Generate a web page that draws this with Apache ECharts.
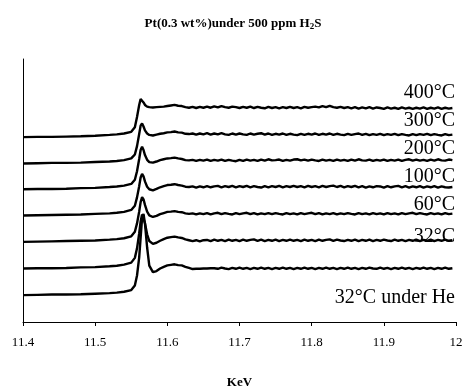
<!DOCTYPE html>
<html>
<head>
<meta charset="utf-8">
<script src="https://cdn.jsdelivr.net/npm/echarts@6/dist/echarts.min.js"></script>
<style>html,body{margin:0;padding:0;background:#fff}#c{width:466px;height:389px}</style>
</head>
<body>
<div id="c"></div>
<script>
// Energy grid (keV)
const energy = [
  11.40,11.42,11.44,11.46,11.48,11.50,11.52,11.53,11.54,11.55,
  11.555,11.558,11.561,11.563,11.565,11.567,11.569,11.572,11.575,11.58,11.585,11.59,
  11.595,11.600,11.605,11.610,11.615,11.620,11.625,11.630,11.635,11.640,
  11.645,11.650,11.655,11.660,11.665,11.670,11.675,11.680,11.685,11.690,
  11.695,11.700,11.705,11.710,11.715,11.720,11.725,11.730,11.735,11.740,
  11.745,11.750,11.755,11.760,11.765,11.770,11.775,11.780,11.785,11.790,
  11.795,11.800,11.805,11.810,11.815,11.820,11.825,11.830,11.835,11.840,
  11.845,11.850,11.855,11.860,11.865,11.870,11.875,11.880,11.885,11.890,
  11.895,11.900,11.905,11.910,11.915,11.920,11.925,11.930,11.935,11.940,
  11.945,11.950,11.955,11.960,11.965,11.970,11.975,11.980,11.985,11.990,
  11.995
];

const xTicks = [11.4, 11.5, 11.6, 11.7, 11.8, 11.9, 12];

const names = ['400°C','300°C','200°C','100°C','60°C','32°C','32°C under He'];
const offsets = [6.60, 5.66, 4.74, 3.80, 2.86, 1.91, 0.96];
const labelHeights = [1.58, 1.52, 1.44, 1.38, 1.32, 1.13, -0.10];

const s400 = [
  0,0.01,0.01,0.02,0.03,0.05,0.08,0.10,0.13,0.19,0.35,0.72,1.15,1.36,1.33,1.24,1.15,1.09,1.07,1.06,1.07,1.08,
  1.09,1.11,1.13,1.15,1.12,1.11,1.07,1.05,1.08,1.04,
  1.08,1.05,1.09,1.05,1.10,1.06,1.11,1.07,1.05,1.09,
  1.07,1.04,1.08,1.05,1.09,1.04,1.08,1.05,1.03,1.08,
  1.04,1.07,1.03,1.07,1.04,1.08,1.04,1.07,1.03,1.08,
  1.05,1.07,1.09,1.06,1.11,1.07,1.12,1.07,1.05,1.08,
  1.04,1.07,1.03,1.07,1.02,1.06,1.03,1.07,1.02,1.06,
  1.04,1.01,1.06,1.02,1.05,1.01,1.06,1.02,1.05,1.01,
  1.05,1.02,1.06,1.01,1.05,1.02,1.06,1.01,1.05,1.02,
  1.04
];
const s300 = [
  0,0.01,0.02,0.02,0.03,0.05,0.07,0.09,0.12,0.18,0.32,0.62,1.05,1.35,1.43,1.32,1.18,1.07,1.02,1.00,1.03,1.06,
  1.08,1.11,1.12,1.14,1.11,1.10,1.06,1.05,1.07,1.03,
  1.07,1.04,1.08,1.03,1.07,1.04,1.08,1.04,1.02,1.07,
  1.03,1.07,1.04,1.02,1.07,1.03,1.06,1.08,1.03,1.07,
  1.02,1.06,1.03,1.07,1.02,1.06,1.03,1.01,1.06,1.02,
  1.06,1.03,1.07,1.02,1.06,1.03,1.07,1.02,1.06,1.03,
  1.01,1.06,1.02,1.05,1.07,1.02,1.06,1.01,1.05,1.02,
  1.06,1.01,1.05,1.02,1.06,1.01,1.05,1.02,1.00,1.05,
  1.01,1.05,1.02,1.06,1.01,1.05,1.02,1.00,1.05,1.01,
  1.03
];
const s200 = [
  0,0.01,0.01,0.02,0.04,0.05,0.08,0.10,0.13,0.19,0.34,0.64,1.08,1.40,1.52,1.40,1.22,1.05,0.97,0.95,0.99,1.04,
  1.07,1.10,1.11,1.13,1.10,1.08,1.04,1.03,1.05,1.01,
  1.05,1.02,1.06,1.01,1.05,1.02,1.06,1.01,1.05,1.02,
  1.00,1.05,1.01,1.06,1.02,1.05,1.01,1.06,1.02,1.07,
  1.03,1.04,1.06,1.01,1.05,1.02,1.06,1.07,1.03,1.06,
  1.02,1.06,1.03,1.01,1.06,1.02,1.05,1.01,1.06,1.02,
  1.05,1.01,1.06,1.02,1.07,1.03,1.02,1.06,1.01,1.05,
  1.02,1.06,1.01,1.05,1.02,1.06,1.01,1.05,1.07,1.02,
  1.06,1.02,1.05,1.01,1.06,1.02,1.07,1.03,1.02,1.06,
  1.04
];
const s100 = [
  0,0.01,0.02,0.03,0.04,0.06,0.08,0.10,0.13,0.20,0.35,0.65,1.05,1.36,1.49,1.40,1.22,1.03,0.94,0.90,0.95,1.01,
  1.05,1.09,1.10,1.12,1.09,1.07,1.03,1.02,1.04,1.00,
  1.04,1.01,1.05,1.01,1.04,1.06,1.01,1.05,1.02,1.06,
  1.01,1.05,1.02,1.06,1.01,1.05,1.02,1.00,1.05,1.01,
  1.05,1.02,1.06,1.01,1.05,1.02,1.06,1.02,1.05,1.01,
  1.06,1.02,1.05,1.01,1.06,1.02,1.05,1.07,1.02,1.06,
  1.01,1.05,1.02,1.06,1.01,1.05,1.00,1.04,1.01,1.05,
  1.04,1.00,1.05,1.01,1.04,1.06,1.01,1.05,1.00,1.04,
  1.01,1.05,1.00,1.04,1.01,1.05,1.00,1.04,1.01,1.00,
  1.02
];
const s60 = [
  0,0.01,0.02,0.03,0.04,0.05,0.08,0.10,0.13,0.20,0.36,0.66,1.08,1.42,1.60,1.52,1.32,1.08,0.95,0.89,0.93,0.99,
  1.03,1.07,1.08,1.10,1.07,1.06,1.02,1.00,1.02,0.98,
  1.02,0.99,1.03,0.98,1.02,1.04,0.99,1.03,1.00,0.98,
  1.03,0.99,1.02,1.04,0.99,1.03,0.98,1.02,0.99,1.03,
  0.99,1.03,1.00,0.98,1.03,0.99,1.02,0.98,1.03,0.99,
  1.02,1.04,0.99,1.03,0.98,1.02,0.99,1.03,0.98,1.02,
  0.99,1.03,1.00,0.98,1.03,0.99,1.02,0.98,1.03,0.99,
  1.02,0.98,1.03,0.99,1.02,0.98,1.03,0.99,1.02,1.04,
  0.99,1.03,1.00,0.98,1.03,0.99,1.02,0.98,1.03,0.99,
  1.01
];
const s32 = [
  0,0.01,0.01,0.02,0.04,0.05,0.08,0.10,0.14,0.21,0.38,0.72,1.25,1.68,1.93,1.90,1.62,1.22,0.98,0.88,0.92,0.99,
  1.05,1.10,1.12,1.14,1.11,1.09,1.04,1.01,0.98,1.01,
  0.97,1.01,1.02,0.98,1.03,0.99,1.02,0.98,1.03,0.99,
  1.02,0.98,1.03,0.99,1.02,1.04,0.99,1.03,0.98,1.02,
  0.99,1.03,0.98,1.02,0.99,1.03,0.99,1.02,0.98,1.03,
  0.99,1.02,0.98,1.03,0.99,1.02,1.04,0.99,1.03,1.00,
  0.98,1.02,0.99,1.03,0.98,1.02,0.99,1.03,0.98,1.02,
  0.99,1.03,1.00,0.98,1.03,0.99,1.02,0.98,1.02,0.99,
  1.03,0.98,1.02,0.99,1.03,0.98,1.02,0.99,1.03,0.99,
  1.01
];
const sHe = [
  0,0.01,0.02,0.02,0.03,0.05,0.07,0.09,0.12,0.18,0.34,0.70,1.35,2.05,2.75,2.90,2.55,1.70,1.05,0.82,0.86,0.95,
  1.01,1.06,1.08,1.10,1.07,1.06,1.01,0.97,0.93,0.94,
  0.94,0.95,0.95,0.96,0.96,0.94,0.98,0.95,0.93,0.97,
  0.94,0.98,0.94,0.97,0.93,0.97,0.94,0.98,0.94,0.97,
  0.93,0.97,0.94,0.98,0.94,0.97,0.93,0.97,0.94,0.98,
  0.94,0.97,0.93,0.97,0.94,0.98,0.94,0.97,0.93,0.97,
  0.94,0.98,0.94,0.97,0.93,0.97,0.94,0.98,0.95,0.94,
  0.98,0.94,0.97,0.93,0.97,0.94,0.98,0.94,0.97,0.93,
  0.97,0.94,0.98,0.94,0.97,0.93,0.97,0.94,0.98,0.94,
  0.96
];
const spectra = [s400, s300, s200, s100, s60, s32, sHe];

const serif = '"Liberation Serif","Times New Roman",serif';

const series = spectra.map((vals, k) => ({
  name: names[k],
  type: 'line',
  showSymbol: false,
  symbol: 'none',
  silent: true,
  lineStyle: { color: '#000', width: 2.4 },
  data: energy.map((e, i) => [e, vals[i] + offsets[k]]),
  markPoint: {
    symbol: 'rect',
    symbolSize: 0,
    silent: true,
    data: [{
      coord: [12, offsets[k] + labelHeights[k]],
      label: {
        show: true,
        position: 'left',
        distance: 1,
        formatter: names[k],
        color: '#000',
        fontFamily: serif,
        fontSize: 20
      }
    }]
  }
}));

const chart = echarts.init(document.getElementById('c'), null, { renderer: 'canvas' });
chart.setOption({
  animation: false,
  backgroundColor: '#fff',
  title: {
    text: 'Pt(0.3 wt%)under 500 ppm H{sub|2}S',
    left: 'center',
    top: 11,
    textStyle: {
      fontFamily: serif, fontWeight: 'bold', fontSize: 13, color: '#000',
      rich: { sub: { fontFamily: serif, fontWeight: 'bold', fontSize: 9, verticalAlign: 'bottom', padding: [6, 0, 0, 0] } }
    }
  },
  grid: { left: 23, right: 10, top: 59, bottom: 67, outerBoundsMode: 'none', containLabel: false },
  xAxis: {
    type: 'value',
    min: xTicks[0],
    max: xTicks[xTicks.length - 1],
    interval: 0.1,
    name: 'KeV',
    nameLocation: 'middle',
    nameGap: 54,
    nameTextStyle: { fontFamily: serif, fontWeight: 'bold', fontSize: 13, color: '#000' },
    axisLine: { lineStyle: { color: '#000', width: 1 } },
    axisTick: { inside: false, length: 4, lineStyle: { color: '#000' } },
    axisLabel: { fontFamily: serif, fontSize: 13, color: '#000', margin: 14 },
    splitLine: { show: false }
  },
  yAxis: {
    type: 'value',
    min: 0,
    max: 9.39,
    axisLine: { show: true, lineStyle: { color: '#000', width: 1 } },
    axisTick: { show: false },
    axisLabel: { show: false },
    splitLine: { show: false }
  },
  series: series
});
</script>
</body>
</html>
